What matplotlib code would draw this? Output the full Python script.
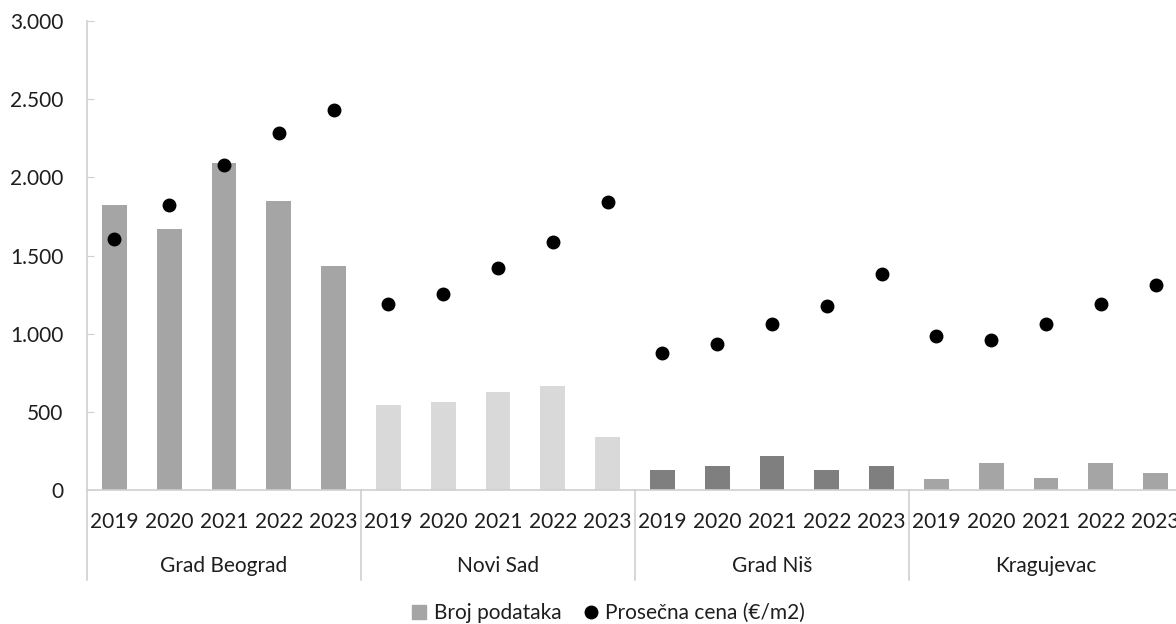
import matplotlib
matplotlib.use("Agg")
import matplotlib.pyplot as plt
from matplotlib.ticker import FuncFormatter, MultipleLocator
from matplotlib.lines import Line2D
from matplotlib import transforms

plt.rcParams['font.family'] = ['Lato', 'DejaVu Sans']

cities = ["Grad Beograd", "Novi Sad", "Grad Niš", "Kragujevac"]
years = ["2019", "2020", "2021", "2022", "2023"]

# Number of records per city and year
broj_podataka = [
    1820, 1670, 2090, 1850, 1430,   # Grad Beograd
    545, 565, 630, 667, 337,        # Novi Sad
    130, 156, 218, 130, 156,        # Grad Niš
    68, 171, 75, 171, 107,          # Kragujevac
]

# Average price (EUR/m2)
prosecna_cena = [
    1605, 1820, 2080, 2285, 2430,
    1188, 1256, 1420, 1589, 1841,
    876, 932, 1060, 1177, 1382,
    987, 960, 1060, 1190, 1310,
]

city_colors = ["#a5a5a5", "#d9d9d9", "#7f7f7f", "#a5a5a5"]
text_color = "#1e1e1e"
axis_color = "#d0d0d0"
fs = 15

n_years = len(years)
x = list(range(len(broj_podataka)))
bar_colors = [city_colors[i // n_years] for i in x]

fig = plt.figure(figsize=(11.76, 6.24), dpi=100)
ax = fig.add_axes([87 / 1176, 134 / 624, 1096 / 1176, 469 / 624])

ax.bar(x, broj_podataka, width=0.45, color=bar_colors, zorder=2)
ax.plot(x, prosecna_cena, 'o', color='black', markersize=9, zorder=3)

ax.set_xlim(-0.5, len(x) - 0.5)
ax.set_ylim(0, 3000)
ax.yaxis.set_major_locator(MultipleLocator(500))
ax.yaxis.set_major_formatter(FuncFormatter(lambda v, p: f"{int(v):,}".replace(",", ".")))

for s in ["top", "right"]:
    ax.spines[s].set_visible(False)
for s in ["left", "bottom"]:
    ax.spines[s].set_color(axis_color)
    ax.spines[s].set_linewidth(1.2)

ax.tick_params(axis='y', direction='in', length=5, color=axis_color,
               labelsize=fs, labelcolor=text_color, pad=17)
ax.set_xticks(x)
ax.set_xticklabels([years[i % n_years] for i in x])
ax.tick_params(axis='x', length=0, labelsize=fs, labelcolor=text_color, pad=16)

# Group labels and separators below the axis
trans = transforms.blended_transform_factory(ax.transData, ax.transAxes)
px = 1 / 469
for g, city in enumerate(cities):
    center = g * n_years + (n_years - 1) / 2
    ax.text(center, -76 * px, city, transform=trans, ha='center', va='center',
            fontsize=fs, color=text_color)
for g in range(len(cities) + 1):
    xb = g * n_years - 0.5
    ax.plot([xb, xb], [0, -90 * px], transform=trans, color=axis_color,
            linewidth=1.2, clip_on=False)

handles = [
    Line2D([], [], marker='s', linestyle='none', color=city_colors[0], markersize=10),
    Line2D([], [], marker='o', linestyle='none', color='black', markersize=9),
]
fig.legend(handles, ["Broj podataka", "Prosečna cena (€/m2)"], loc='center',
           bbox_to_anchor=(608 / 1176, 11 / 624), ncol=2, frameon=False,
           fontsize=fs, labelcolor=text_color, handlelength=0.8,
           handletextpad=0.3, columnspacing=1.0)

fig.savefig("out.png", dpi=100)
